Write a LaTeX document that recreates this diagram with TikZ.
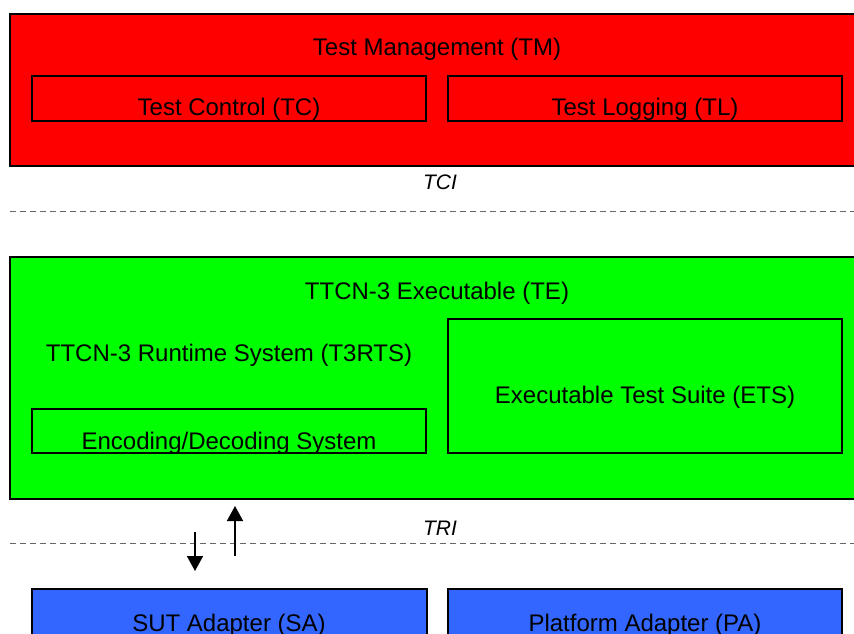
\documentclass[tikz,border=0pt]{standalone}
\usepackage{fontspec}
\setmainfont{Liberation Sans}
\usetikzlibrary{arrows.meta}
\definecolor{tmred}{HTML}{FF0000}
\definecolor{tegreen}{HTML}{00FF00}
\definecolor{adblue}{HTML}{3366FF}
\begin{document}
\begin{tikzpicture}[x=1pt,y=-1pt,
  box/.style={draw=black,line width=2pt,inner sep=0pt,outer sep=0pt},
  txt/.style={anchor=base,inner sep=0pt,font=\fontsize{24}{28}\selectfont},
  itxt/.style={anchor=base,inner sep=0pt,font=\fontsize{21}{25}\selectfont\itshape},
  ifline/.style={draw=black!60,line width=1pt,dash pattern=on 6pt off 4pt},
  arr/.style={line width=1.6pt,-{Triangle[width=16pt,length=15pt]}}]
\useasboundingbox (0,0) rectangle (854,633);
\begin{scope}
\clip (0,0) rectangle (854,633);
% Test Management
\path[box,fill=tmred] (10,14) rectangle (866,166);
\node[box,fill=tmred,minimum width=394pt,minimum height=45pt,anchor=north west] (tc) at (32,76) {};
\node[box,fill=tmred,minimum width=394pt,minimum height=45pt,anchor=north west] (tl) at (448,76) {};
\node[txt] (tmt) at (437,55) {Test Management (TM)};
\node[txt] (tct) at (229,115) {Test Control (TC)};
\node[txt] (tlt) at (645,115) {Test Logging (TL)};
% TCI
\node[itxt] (tci) at (440,189) {TCI};
\coordinate (d1a) at (10,211);
\coordinate (d1b) at (854,211);
\draw[ifline] (d1a) -- (d1b);
% TE
\path[box,fill=tegreen] (10,257) rectangle (866,499);
\node[box,fill=tegreen,minimum width=394pt,minimum height=134pt,anchor=north west] (ets) at (448,319) {};
\node[box,fill=tegreen,minimum width=394pt,minimum height=44pt,anchor=north west] (enc) at (32,409) {};
\node[txt] (tet) at (437,299) {TTCN-3 Executable (TE)};
\node[txt] (rts) at (229,361) {TTCN-3 Runtime System (T3RTS)};
\node[txt] (etst) at (645,403) {Executable Test Suite (ETS)};
\node[txt] (enct) at (229,449) {Encoding/Decoding System};
% TRI
\node[itxt] (tri) at (440,535) {TRI};
\coordinate (d2a) at (10,543);
\coordinate (d2b) at (854,543);
\draw[ifline] (d2a) -- (d2b);
\coordinate (dn1) at (195,532);
\coordinate (dn2) at (195,571);
\coordinate (up1) at (235,556);
\coordinate (up2) at (235,506);
\draw[arr] (dn1) -- (dn2);
\draw[arr] (up1) -- (up2);
% Adapters
\node[box,fill=adblue,minimum width=395pt,minimum height=80pt,anchor=north west] (sa) at (32,589) {};
\node[box,fill=adblue,minimum width=394pt,minimum height=80pt,anchor=north west] (pa) at (448,589) {};
\node[txt] (sat) at (229,631) {SUT Adapter (SA)};
\node[txt] (pat) at (645,631) {Platform Adapter (PA)};
\end{scope}
\end{tikzpicture}
\end{document}
